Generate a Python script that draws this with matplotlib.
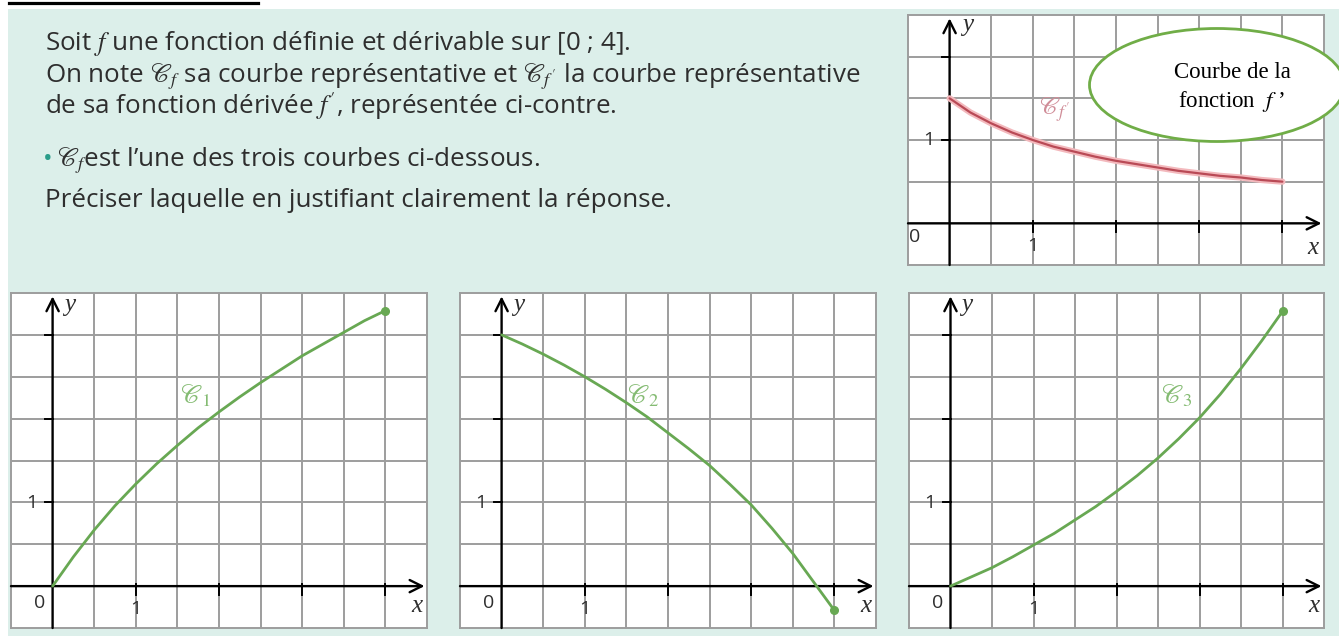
import numpy as np
import matplotlib
matplotlib.use("Agg")
import matplotlib.pyplot as plt
from matplotlib.patches import Rectangle, Ellipse
from matplotlib.lines import Line2D

plt.rcParams["mathtext.fontset"] = "stix"
plt.rcParams["font.family"] = ["Open Sans", "DejaVu Sans"]

# ---------------------------------------------------------------- data
x_pts = [0.0, 0.25, 0.5, 0.75, 1.0, 1.25, 1.5, 1.75, 2.0,
         2.25, 2.5, 2.75, 3.0, 3.25, 3.5, 3.75, 4.0]

# derivative f'
fprime_vals = [1.50, 1.33, 1.20, 1.09, 1.00, 0.92, 0.86, 0.80, 0.75,
               0.71, 0.67, 0.63, 0.60, 0.57, 0.55, 0.52, 0.50]

# candidate curves C1, C2, C3
c1_vals = [0.00, 0.35, 0.67, 0.96, 1.22, 1.46, 1.68, 1.89, 2.08,
           2.26, 2.43, 2.59, 2.75, 2.89, 3.03, 3.17, 3.29]
c2_vals = [3.00, 2.89, 2.77, 2.64, 2.50, 2.35, 2.19, 2.02, 1.83,
           1.64, 1.44, 1.21, 0.97, 0.69, 0.39, 0.05, -0.29]
c3_vals = [0.00, 0.11, 0.22, 0.35, 0.49, 0.63, 0.79, 0.95, 1.13,
           1.32, 1.53, 1.76, 2.01, 2.29, 2.60, 2.93, 3.28]

curve_labels = [r"$\mathscr{C}_1$", r"$\mathscr{C}_2$", r"$\mathscr{C}_3$"]
fprime_label = r"$\mathscr{C}_{f'}$"

statement = [
    r"Soit $f$ une fonction définie et dérivable sur [0 ; 4].",
    r"On note $\mathscr{C}_f$ sa courbe représentative et $\mathscr{C}_{f'}$ la courbe représentative",
    r"de sa fonction dérivée $f'$, représentée ci-contre.",
    r"$\mathscr{C}_f$est l’une des trois courbes ci-dessous.",
    "Préciser laquelle en justifiant clairement la réponse.",
]
bubble_lines = ["Courbe de la", r"fonction  $f$ ’"]

# ---------------------------------------------------------------- style
W, H = 1339, 636
TEAL = "#dcefea"
GRID = "#9d9d9d"
GREEN = "#68a853"
GREEN_LABEL = "#84bb72"
RED = "#b94a56"
RED_HALO = "#f3b9bd"
TEXT = "#2e2e2e"

fig = plt.figure(figsize=(W / 100, H / 100), dpi=100)
fig.patch.set_facecolor("white")


def fx(px):
    return px / W


def fy(py):
    return 1 - py / H


# tinted sheet and heading rule
fig.patches.append(Rectangle((fx(8), 0), 1 - fx(8), fy(9), transform=fig.transFigure,
                             facecolor=TEAL, edgecolor="none", zorder=-5))
fig.lines.append(Line2D([fx(9), fx(258)], [fy(2.5), fy(2.5)], transform=fig.transFigure,
                        color="black", lw=2.3))

# statement text
TXT_SIZE = 18.7
line_y = [50, 82, 114, 166, 207]
for i, (txt, yb) in enumerate(zip(statement, line_y)):
    x0 = 45 if i != 3 else 57
    fig.text(fx(x0), fy(yb), txt, fontsize=TXT_SIZE, color=TEXT, va="baseline", ha="left")
fig.text(fx(43), fy(166), "•", fontsize=TXT_SIZE, color="#2a9d8a", va="baseline", ha="left")


def panel(left, top, right, bottom, ymax, yticks, zero_pos, y1_pos, xlab_pos, ylab_pos):
    ax = fig.add_axes([fx(left), fy(bottom), fx(right) - fx(left), fy(top) - fy(bottom)])
    ax.set_xlim(-0.5, 4.5)
    ax.set_ylim(-0.5, ymax)
    ax.set_facecolor("white")
    ax.set_xticks([])
    ax.set_yticks([])
    for s in ax.spines.values():
        s.set_color(GRID)
        s.set_linewidth(1.4)
    for gx in np.arange(0.5, 4.5, 0.5):
        ax.axvline(gx, color=GRID, lw=1.4, zorder=1)
    for gy in np.arange(0.5, ymax, 0.5):
        ax.axhline(gy, color=GRID, lw=1.4, zorder=1)
    arrow = dict(arrowstyle="->", color="black", lw=1.7, mutation_scale=22,
                 shrinkA=0, shrinkB=0)
    ax.annotate("", xy=(4.47, 0), xytext=(-0.5, 0), arrowprops=arrow, zorder=3)
    ax.annotate("", xy=(0, ymax - 0.04), xytext=(0, -0.5), arrowprops=arrow, zorder=3)
    for t in [1, 2, 3, 4]:
        ax.plot([t, t], [-0.1, 0.03], color="black", lw=1.4, zorder=3)
    for t in yticks:
        ax.plot([-0.09, 0], [t, t], color="black", lw=1.4, zorder=3)
    ax.text(*zero_pos, "0", fontsize=14, color=TEXT, ha="center", va="center")
    ax.text(1.0, -0.27, "1", fontsize=14, color=TEXT, ha="center", va="center")
    ax.text(*y1_pos, "1", fontsize=14, color=TEXT, ha="center", va="center")
    ax.text(*xlab_pos, "x", fontsize=18, family="Liberation Serif", style="italic",
            color=TEXT, ha="center", va="center")
    ax.text(*ylab_pos, "y", fontsize=18, family="Liberation Serif", style="italic",
            color=TEXT, ha="center", va="center")
    return ax


# derivative panel
axd = panel(908, 15, 1324, 265, 2.5, [1, 2], (-0.42, -0.16), (-0.25, 1.0),
            (4.37, -0.3), (0.22, 2.38))
axd.plot(x_pts, fprime_vals, color=RED_HALO, lw=4.5, solid_capstyle="round", zorder=4)
axd.plot(x_pts, fprime_vals, color=RED, lw=1.6, solid_capstyle="round", zorder=5)
axd.text(1.26, 1.36, fprime_label, fontsize=18, color="#d08d98", ha="center", va="center")

# candidate panels
lefts = [11, 460, 909]
rights = [427, 876, 1324]
series = [c1_vals, c2_vals, c3_vals]
label_pos = [(1.72, 2.27), (1.7, 2.27), (2.72, 2.27)]
for left, right, vals, lab, lp in zip(lefts, rights, series, curve_labels, label_pos):
    ax = panel(left, 293, right, 628, 3.5, [1, 2, 3], (-0.15, -0.2), (-0.25, 0.99),
               (4.38, -0.24), (0.2, 3.36))
    ax.plot(x_pts, vals, color=GREEN, lw=2.0, solid_capstyle="round", zorder=4)
    ax.plot(x_pts[-1], vals[-1], "o", ms=5.5, color=GREEN, zorder=5)
    ax.text(*lp, lab, fontsize=19, color=GREEN_LABEL, ha="center", va="center")

# callout bubble
fig.patches.append(Ellipse((fx(1217), fy(85)), 255 / W, 113 / H, transform=fig.transFigure,
                           facecolor="white", edgecolor="#70ad47", lw=2.0, zorder=10))
fig.text(fx(1232), fy(73), bubble_lines[0], fontsize=16.5, family="Liberation Serif",
         color="black", ha="center", va="center", zorder=11)
fig.text(fx(1232), fy(102), bubble_lines[1], fontsize=16.5, family="Liberation Serif",
         color="black", ha="center", va="center", zorder=11)

fig.savefig("out.png", dpi=100, facecolor=fig.get_facecolor())
